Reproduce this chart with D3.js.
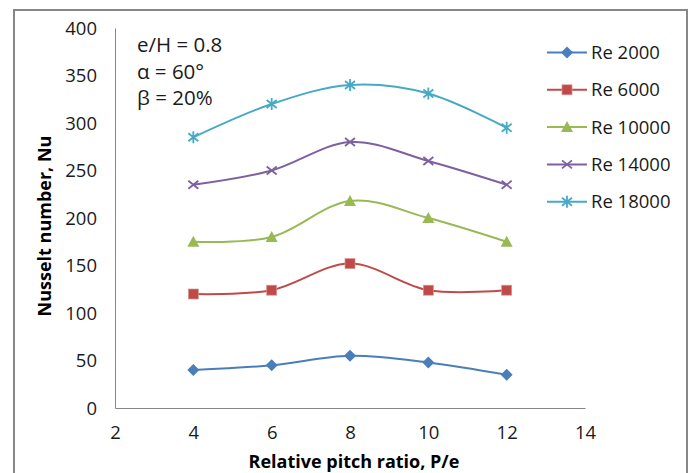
<!DOCTYPE html>
<html>
<head>
<meta charset="utf-8">
<script src="https://cdn.jsdelivr.net/npm/d3@7"></script>
<style>
  body { margin: 0; background: #fff; }
  text { font-family: "Open Sans", Lato, sans-serif; }
</style>
</head>
<body>
<div id="chart"></div>
<script>
/* Data */
const pitchRatio = [4, 6, 8, 10, 12];
const seriesNames = ["Re 2000", "Re 6000", "Re 10000", "Re 14000", "Re 18000"];
const re2000 = [40, 45, 55, 48, 35];
const re6000 = [120, 124, 152, 124, 124];
const re10000 = [175, 180, 218, 200, 175];
const re14000 = [235, 250, 280, 260, 235];
const re18000 = [285, 320, 340, 331, 295];
const xTicks = [2, 4, 6, 8, 10, 12, 14];
const yTicks = [0, 50, 100, 150, 200, 250, 300, 350, 400];
const notes = ["e/H = 0.8", "α = 60°", "β = 20%"];

const colors = ["#4a7ebb", "#be4b48", "#98b954", "#7d60a0", "#46aac5"];
const shapes = ["diamond", "square", "triangle", "cross", "star"];

/* Dimensions */
const width = 690, height = 473;
const margin = { top: 28, right: 105, bottom: 65, left: 115 };

const svg = d3.select("#chart").append("svg")
  .attr("width", width).attr("height", height);

// outer frame
svg.append("rect")
  .attr("x", 14).attr("y", 10)
  .attr("width", 673).attr("height", 480)
  .attr("fill", "none").attr("stroke", "#878787").attr("stroke-width", 2);

/* Scales */
const xScale = d3.scaleLinear().domain([2, 14]).range([margin.left, width - margin.right]);
const yScale = d3.scaleLinear().domain([0, 400]).range([height - margin.bottom, margin.top]);

/* Axes */
const xAxis = svg.append("g")
  .attr("transform", `translate(0,${yScale(0)})`)
  .call(d3.axisBottom(xScale).tickValues(xTicks).tickSize(0).tickPadding(18));
const yAxis = svg.append("g")
  .attr("transform", `translate(${xScale(2)},0)`)
  .call(d3.axisLeft(yScale).tickValues(yTicks).tickSize(0).tickPadding(18));

[xAxis, yAxis].forEach(a => {
  a.select(".domain").attr("stroke", "#868686").attr("stroke-width", 1);
  a.selectAll("text")
    .style("font-family", "'Open Sans', sans-serif")
    .style("font-size", "18.5px")
    .attr("fill", "#1a1a1a");
});
yAxis.selectAll("text").attr("dy", "0.34em");
xAxis.selectAll("text").attr("dy", "0.72em");

// Axis labels
svg.append("text")
  .attr("x", 354)
  .attr("y", 468)
  .attr("text-anchor", "middle")
  .style("font-size", "18px").style("font-weight", "bold")
  .text("Relative pitch ratio, P/e");

svg.append("text")
  .attr("transform", `translate(51,226) rotate(-90)`)
  .attr("text-anchor", "middle")
  .style("font-size", "18px").style("font-weight", "bold")
  .text("Nusselt number, Nu");

/* Series */
const allSeries = [re2000, re6000, re10000, re14000, re18000];
const line = d3.line()
  .x((d, i) => xScale(pitchRatio[i]))
  .y(d => yScale(d))
  .curve(d3.curveCatmullRom.alpha(0));

function drawMarker(g, shape, color) {
  if (shape === "diamond") {
    g.append("path").attr("d", "M0,-6L6,0L0,6L-6,0Z").attr("fill", color);
  } else if (shape === "square") {
    g.append("rect").attr("x", -5).attr("y", -5).attr("width", 10).attr("height", 10)
      .attr("fill", color).attr("stroke", "#d99694").attr("stroke-width", 0.7);
  } else if (shape === "triangle") {
    g.append("path").attr("d", "M0,-6L6,5L-6,5Z").attr("fill", color);
  } else if (shape === "cross") {
    g.append("path").attr("d", "M-5,-4L5,4M-5,4L5,-4").attr("stroke", color).attr("stroke-width", 1.8);
  } else if (shape === "star") {
    g.append("path").attr("d", "M-5,-4L5,4M-5,4L5,-4M0,-6L0,6").attr("stroke", color).attr("stroke-width", 1.8);
  }
}

allSeries.forEach((vals, s) => {
  svg.append("path")
    .datum(vals)
    .attr("d", line)
    .attr("fill", "none")
    .attr("stroke", colors[s])
    .attr("stroke-width", 2);

  vals.forEach((v, i) => {
    const g = svg.append("g")
      .attr("transform", `translate(${xScale(pitchRatio[i])},${yScale(v)})`);
    drawMarker(g, shapes[s], colors[s]);
  });
});

/* Notes */
notes.forEach((t, i) => {
  svg.append("text")
    .attr("x", 137).attr("y", 52 + i * 26.5)
    .style("font-size", "20.5px").attr("fill", "#1a1a1a")
    .text(t);
});

/* Legend */
seriesNames.forEach((name, s) => {
  const ly = 52.5 + s * 37.3;
  svg.append("line")
    .attr("x1", 547).attr("x2", 587).attr("y1", ly).attr("y2", ly)
    .attr("stroke", colors[s]).attr("stroke-width", 2);
  const g = svg.append("g").attr("transform", `translate(567,${ly})`);
  drawMarker(g, shapes[s], colors[s]);
  svg.append("text")
    .attr("x", 591).attr("y", ly).attr("dy", "0.35em")
    .style("font-size", "18.5px").attr("fill", "#1a1a1a")
    .text(name);
});
</script>
</body>
</html>
